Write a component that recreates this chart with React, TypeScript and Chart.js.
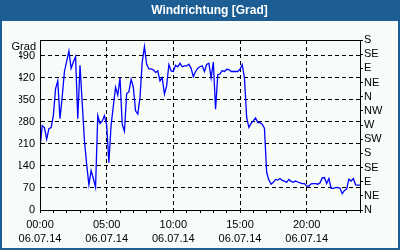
import React, { useEffect, useRef } from 'react';
import { Chart, registerables } from 'chart.js';

Chart.register(...registerables);

// wind direction in degrees, one sample every 10 minutes, 06.07.14 00:00 – 24:00
const windDir = [
  198, 268, 262, 225, 258, 262, 300, 385, 410, 290, 360, 440,
  472, 505, 450, 470, 487, 290, 460, 340, 220, 145, 80, 125,
  100, 72, 300, 275, 282, 300, 270, 150, 270, 330, 390, 365,
  420, 272, 250, 370, 375, 415, 390, 315, 305, 357, 470, 519,
  463, 448, 448, 445, 437, 442, 410, 420, 368, 395, 462, 442,
  440, 460, 455, 466, 455, 458, 458, 463, 450, 423, 440, 450,
  455, 458, 440, 462, 466, 420, 470, 320, 430, 432, 443, 440,
  447, 446, 440, 440, 440, 440, 447, 462, 420, 294, 262, 275,
  283, 292, 278, 278, 272, 260, 119, 95, 82, 88, 97, 95,
  100, 94, 92, 88, 97, 91, 88, 92, 89, 86, 84, 84,
  76, 76, 83, 84, 84, 82, 86, 102, 103, 84, 100, 69,
  69, 71, 72, 69, 52, 62, 67, 98, 92, 100, 80, 79,
  79,
];
const sampleMinutes = 10;
const hourLabels = ['00:00', '05:00', '10:00', '15:00', '20:00'];
const dateLabel = '06.07.14';
const degreeTicks = [0, 70, 140, 210, 280, 350, 420, 490];
const compassLabels = ['N', 'NE', 'E', 'SE', 'S', 'SW', 'W', 'NW', 'N', 'NE', 'E', 'SE', 'S'];
const chartTitle = 'Windrichtung [Grad]';
const unitLabel = 'Grad';

const FRAME = '#1C5E94';
const PANEL = '#F8FCF8';
const FONT = "'Liberation Sans', Arial, sans-serif";

export default function App() {
  const ref = useRef<HTMLCanvasElement | null>(null);

  useEffect(() => {
    if (!ref.current) return;
    Chart.defaults.font.family = FONT;
    Chart.defaults.font.size = 11;
    Chart.defaults.color = '#000';

    const frame = {
      id: 'frame',
      beforeDraw(chart: any) {
        const c = chart.ctx;
        c.save();
        c.fillStyle = FRAME;
        c.fillRect(0, 0, chart.width, chart.height);
        c.fillStyle = PANEL;
        c.fillRect(2, 21, chart.width - 4, chart.height - 23);
        c.restore();
      },
      afterDatasetsDraw(chart: any) {
        const { left, right, top, bottom } = chart.chartArea;
        const c = chart.ctx;
        c.save();
        c.setLineDash([]);
        c.strokeStyle = '#000';
        c.lineWidth = 1;
        c.strokeRect(Math.round(left) + 0.5, Math.round(top) + 0.5, Math.round(right - left), Math.round(bottom - top));
        c.font = `11px ${FONT}`;
        c.fillStyle = '#000';
        c.textAlign = 'right';
        c.textBaseline = 'alphabetic';
        c.fillText(unitLabel, 36, 50);
        c.restore();
      },
    };

    const chart = new Chart(ref.current, {
      type: 'line',
      data: {
        datasets: [
          {
            data: windDir.map((v, i) => ({ x: (i * sampleMinutes) / 60, y: v })),
            borderColor: '#0000FF',
            borderWidth: 1.3,
            pointRadius: 0,
            tension: 0,
            fill: false,
            yAxisID: 'y',
          },
        ],
      },
      options: {
        animation: false,
        responsive: false,
        devicePixelRatio: 1,
        layout: { padding: { left: 19, right: 0, top: 0, bottom: 0 } },
        plugins: {
          legend: { display: false },
          tooltip: { enabled: false },
          title: {
            display: true,
            text: chartTitle,
            color: '#FFFFFF',
            font: { family: FONT, size: 12, weight: 'bold', lineHeight: 1.2 },
            padding: { top: 3, bottom: 22.6 },
          },
        },
        scales: {
          x: {
            type: 'linear',
            min: 0,
            max: 24,
            afterBuildTicks: (s: any) => {
              s.ticks = Array.from({ length: 25 }, (_, h) => ({ value: h }));
            },
            afterFit: (s: any) => {
              s.height = 40;
            },
            ticks: {
              autoSkip: false,
              maxRotation: 0,
              padding: 5,
              font: { size: 11, lineHeight: 1.27 },
              callback: (v: any) => {
                const h = Number(v);
                return h % 5 === 0 && h < 24 ? [hourLabels[h / 5], dateLabel] : '';
              },
            },
            grid: {
              color: (ctx: any) => {
                const h = ctx.tick ? ctx.tick.value : 0;
                return h % 5 === 0 && h > 0 && h < 24 ? '#000' : 'rgba(0,0,0,0)';
              },
              borderDash: [4, 3],
              tickBorderDash: [],
              tickColor: '#000',
              tickLength: 3,
              tickWidth: 1,
            },
            border: { display: true, color: '#000', dash: [4, 3] },
          },
          y: {
            type: 'linear',
            position: 'left',
            min: 0,
            max: 540,
            afterBuildTicks: (s: any) => {
              s.ticks = degreeTicks.map((v) => ({ value: v }));
            },
            afterFit: (s: any) => {
              s.width = 21;
            },
            ticks: { autoSkip: false, padding: 5, font: { size: 11 } },
            grid: {
              color: (ctx: any) => (ctx.tick && ctx.tick.value > 0 ? '#000' : 'rgba(0,0,0,0)'),
              borderDash: [4, 3],
              drawTicks: false,
            },
            border: { display: true, color: '#000', dash: [4, 3] },
          },
          y2: {
            type: 'linear',
            position: 'right',
            min: 0,
            max: 540,
            afterBuildTicks: (s: any) => {
              s.ticks = compassLabels.map((_, i) => ({ value: i * 45 }));
            },
            afterFit: (s: any) => {
              s.width = 40;
            },
            ticks: {
              autoSkip: false,
              padding: 1,
              font: { size: 11 },
              callback: (v: any) => compassLabels[Math.round(Number(v) / 45)],
            },
            grid: {
              drawOnChartArea: false,
              tickColor: '#000',
              tickLength: 3,
              tickBorderDash: [],
            },
            border: { display: true, color: '#000' },
          },
        },
      },
      plugins: [frame],
    } as any);

    return () => chart.destroy();
  }, []);

  return (
    <div style={{ position: 'absolute', left: 0, top: 0, width: 400, height: 250 }}>
      <canvas ref={ref} width={400} height={250} style={{ display: 'block', width: 400, height: 250 }} />
    </div>
  );
}
